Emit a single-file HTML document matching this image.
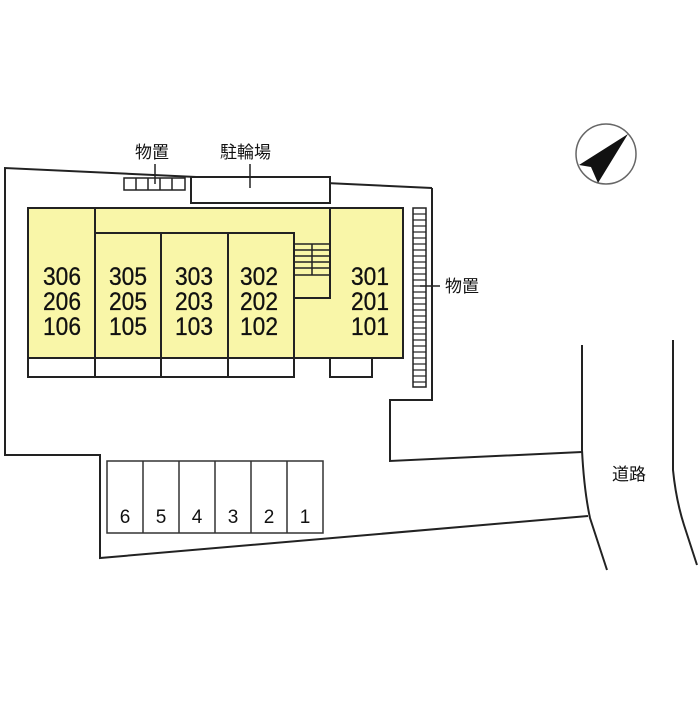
<!DOCTYPE html>
<html><head><meta charset="utf-8"><style>
html,body{margin:0;padding:0;background:#fff;}
svg text{font-family:"Liberation Sans","Noto Sans CJK JP",sans-serif;}
</style></head><body>
<svg width="700" height="700" viewBox="0 0 700 700" xmlns="http://www.w3.org/2000/svg">
<g fill="none" stroke="#222" stroke-width="2">
<polyline points="432,188 5,168 5,455 100,455 100,558 588,516"/>
<polyline points="432,188 432,400 390,400 390,461 582,452"/>
<path d="M582,345 L582,450 Q584,490 590,518 L607,570"/>
<path d="M673,340 L673,470 Q676,500 684,525 L697,565"/>
</g>
<circle cx="606" cy="154" r="30" fill="none" stroke="#666" stroke-width="1.5"/>
<polygon points="628,134 579,165 591,167 598,183" fill="#111"/>
<rect x="28" y="208" width="375" height="150" fill="#f9f6a8" stroke="#222" stroke-width="2"/>
<g stroke="#222" stroke-width="2" fill="none">
<line x1="95" y1="208" x2="95" y2="358"/>
<polyline points="95,233 294,233 294,358"/>
<line x1="161" y1="233" x2="161" y2="358"/>
<line x1="228" y1="233" x2="228" y2="358"/>
<polyline points="330,208 330,298 294,298"/>
</g>
<g stroke="#222" stroke-width="1.5">
<line x1="294" y1="244" x2="330" y2="244"/>
<line x1="294" y1="250" x2="330" y2="250"/>
<line x1="294" y1="256" x2="330" y2="256"/>
<line x1="294" y1="262" x2="330" y2="262"/>
<line x1="294" y1="268" x2="330" y2="268"/>
<line x1="294" y1="275" x2="330" y2="275"/>
<line x1="312" y1="244" x2="312" y2="275"/>
</g>
<g fill="#fff" stroke="#222" stroke-width="2">
<rect x="28" y="358" width="67" height="19"/>
<rect x="95" y="358" width="66" height="19"/>
<rect x="161" y="358" width="67" height="19"/>
<rect x="228" y="358" width="66" height="19"/>
<rect x="330" y="358" width="42" height="19"/>
<rect x="191" y="177" width="139" height="26"/>
</g>
<g fill="#fff" stroke="#222" stroke-width="1.5">
<rect x="124" y="178" width="61" height="12"/>
<line x1="136" y1="178" x2="136" y2="190"/><line x1="148" y1="178" x2="148" y2="190"/>
<line x1="160" y1="178" x2="160" y2="190"/><line x1="172" y1="178" x2="172" y2="190"/>
</g>
<line x1="155" y1="164" x2="155" y2="184" stroke="#222" stroke-width="1.5"/>
<line x1="250" y1="164" x2="250" y2="188" stroke="#222" stroke-width="1.5"/>
<rect x="413" y="208" width="13" height="179" fill="#fff" stroke="#222" stroke-width="1.5"/>
<g stroke="#222" stroke-width="1.2">
<line x1="413" y1="214" x2="426" y2="214"/><line x1="413" y1="220" x2="426" y2="220"/><line x1="413" y1="226" x2="426" y2="226"/><line x1="413" y1="232" x2="426" y2="232"/><line x1="413" y1="238" x2="426" y2="238"/><line x1="413" y1="244" x2="426" y2="244"/><line x1="413" y1="250" x2="426" y2="250"/><line x1="413" y1="256" x2="426" y2="256"/><line x1="413" y1="262" x2="426" y2="262"/><line x1="413" y1="268" x2="426" y2="268"/><line x1="413" y1="274" x2="426" y2="274"/><line x1="413" y1="280" x2="426" y2="280"/><line x1="413" y1="286" x2="426" y2="286"/><line x1="413" y1="292" x2="426" y2="292"/><line x1="413" y1="298" x2="426" y2="298"/><line x1="413" y1="304" x2="426" y2="304"/><line x1="413" y1="310" x2="426" y2="310"/><line x1="413" y1="316" x2="426" y2="316"/><line x1="413" y1="322" x2="426" y2="322"/><line x1="413" y1="328" x2="426" y2="328"/><line x1="413" y1="334" x2="426" y2="334"/><line x1="413" y1="340" x2="426" y2="340"/><line x1="413" y1="346" x2="426" y2="346"/><line x1="413" y1="352" x2="426" y2="352"/><line x1="413" y1="358" x2="426" y2="358"/><line x1="413" y1="364" x2="426" y2="364"/><line x1="413" y1="370" x2="426" y2="370"/><line x1="413" y1="376" x2="426" y2="376"/><line x1="413" y1="382" x2="426" y2="382"/>
<line x1="420" y1="286" x2="440" y2="286" stroke-width="1.5"/>
</g>
<g fill="#fff" stroke="#333" stroke-width="1.5">
<rect x="107" y="461" width="216" height="72"/>
<line x1="143" y1="461" x2="143" y2="533"/><line x1="179" y1="461" x2="179" y2="533"/><line x1="215" y1="461" x2="215" y2="533"/><line x1="251" y1="461" x2="251" y2="533"/><line x1="287" y1="461" x2="287" y2="533"/>
</g>
<g font-size="19" fill="#111" text-anchor="middle">
<text x="125" y="523">6</text><text x="161" y="523">5</text><text x="197" y="523">4</text><text x="233" y="523">3</text><text x="269" y="523">2</text><text x="305" y="523">1</text>
</g>
<g font-size="25" fill="#111" text-anchor="middle" stroke="#111" stroke-width="0.3">
<text x="62" y="285" textLength="38" lengthAdjust="spacingAndGlyphs">306</text><text x="62" y="310" textLength="38" lengthAdjust="spacingAndGlyphs">206</text><text x="62" y="335" textLength="38" lengthAdjust="spacingAndGlyphs">106</text>
<text x="128" y="285" textLength="38" lengthAdjust="spacingAndGlyphs">305</text><text x="128" y="310" textLength="38" lengthAdjust="spacingAndGlyphs">205</text><text x="128" y="335" textLength="38" lengthAdjust="spacingAndGlyphs">105</text>
<text x="194" y="285" textLength="38" lengthAdjust="spacingAndGlyphs">303</text><text x="194" y="310" textLength="38" lengthAdjust="spacingAndGlyphs">203</text><text x="194" y="335" textLength="38" lengthAdjust="spacingAndGlyphs">103</text>
<text x="259" y="285" textLength="38" lengthAdjust="spacingAndGlyphs">302</text><text x="259" y="310" textLength="38" lengthAdjust="spacingAndGlyphs">202</text><text x="259" y="335" textLength="38" lengthAdjust="spacingAndGlyphs">102</text>
<text x="370" y="285" textLength="38" lengthAdjust="spacingAndGlyphs">301</text><text x="370" y="310" textLength="38" lengthAdjust="spacingAndGlyphs">201</text><text x="370" y="335" textLength="38" lengthAdjust="spacingAndGlyphs">101</text>
</g>
<g font-size="17" fill="#111">
<text x="135" y="158">物置</text>
<text x="220" y="158">駐輪場</text>
<text x="445" y="292">物置</text>
<text x="612" y="480">道路</text>
</g>
</svg>
</body></html>
